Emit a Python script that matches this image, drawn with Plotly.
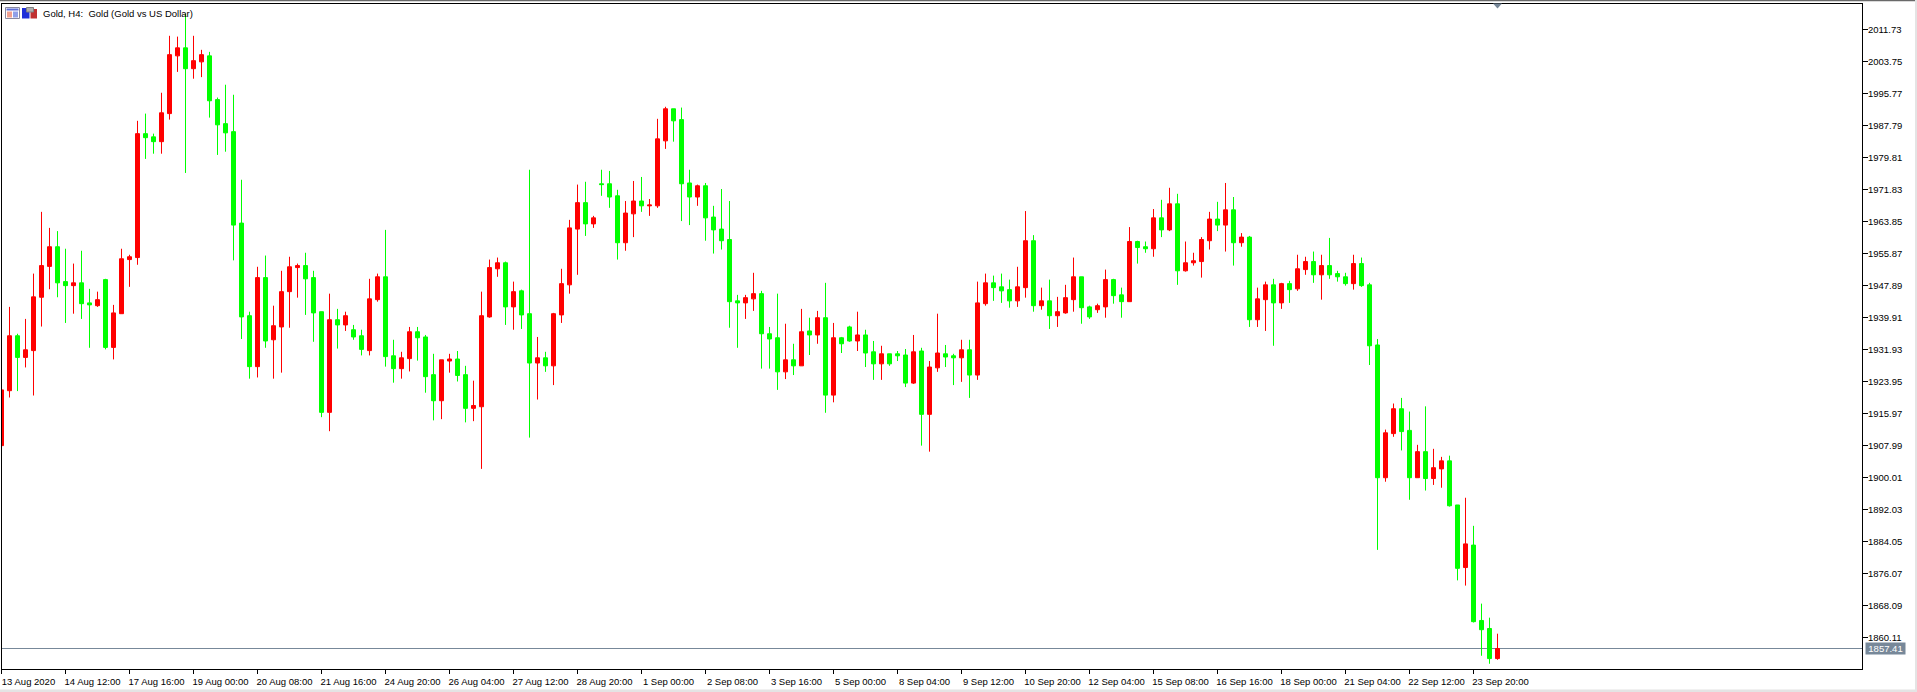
import plotly.graph_objects as go

# Gold H4 bars
opens = [
 1908.0,1921.7,1935.4,1930.0,1931.7,1945.0,1952.7,1957.6,1948.9,1947.9,
 1948.6,1943.6,1942.9,1949.4,1932.5,1940.9,1954.4,1954.9,1985.8,1985.0,
 1983.8,1990.8,2005.2,2007.2,2002.0,2003.7,2005.2,1994.3,1988.3,1986.3,
 1963.5,1940.4,1927.7,1949.9,1934.4,1937.6,1946.4,1952.4,1952.9,1949.9,
 1941.4,1916.3,1939.4,1938.1,1936.9,1935.4,1931.7,1944.4,1950.1,1930.4,
 1927.2,1929.7,1936.4,1935.1,1925.7,1919.2,1929.1,1929.6,1925.7,1917.3,
 1917.7,1940.1,1952.1,1953.6,1942.6,1946.6,1940.9,1928.6,1929.9,1927.9,
 1940.6,1948.1,1962.0,1968.6,1963.3,1973.3,1973.3,1970.3,1958.6,1965.8,
 1969.0,1967.8,1967.8,1984.0,1992.0,1989.3,1973.5,1970.0,1972.8,1965.0,
 1962.0,1959.4,1944.1,1943.6,1944.6,1945.9,1935.9,1934.9,1926.4,1929.4,
 1927.9,1936.6,1935.6,1939.9,1920.6,1934.9,1937.6,1934.1,1935.6,1931.4,
 1928.4,1930.9,1930.9,1930.6,1923.6,1931.6,1915.8,1927.4,1930.9,1930.4,
 1929.9,1931.9,1925.6,1943.4,1948.6,1947.6,1946.9,1944.1,1947.4,1959.1,
 1942.9,1944.1,1940.4,1941.1,1944.4,1950.1,1942.6,1941.9,1942.6,1949.4,
 1945.6,1943.9,1958.9,1957.6,1957.1,1964.8,1961.8,1968.3,1951.6,1953.6,
 1953.9,1959.1,1964.5,1963.0,1966.8,1958.6,1960.0,1939.4,1944.4,1948.1,
 1943.6,1948.4,1947.1,1951.9,1953.9,1950.6,1952.9,1950.9,1950.1,1948.4,
 1953.4,1948.1,1933.1,1900.0,1911.0,1917.2,1911.8,1900.0,1906.5,1899.8,
 1902.2,1904.2,1893.2,1877.6,1883.2,1864.4,1862.4,1854.9]
highs = [
 1922.4,1942.6,1935.9,1939.6,1950.9,1966.3,1962.3,1961.5,1957.1,1953.4,
 1956.6,1947.1,1946.4,1949.6,1943.1,1957.1,1955.6,1989.0,1990.8,1985.8,
 1996.0,2010.2,2010.0,2015.7,2010.2,2006.7,2006.2,1994.8,1998.0,1995.5,
 1974.3,1941.4,1952.6,1955.4,1942.9,1951.6,1955.1,1953.4,1956.1,1951.6,
 1941.4,1945.9,1942.1,1941.4,1938.1,1936.9,1949.6,1950.9,1961.8,1934.4,
 1931.4,1937.6,1937.6,1935.6,1930.9,1929.4,1930.9,1931.6,1927.9,1924.2,
 1946.4,1954.4,1954.9,1953.9,1948.9,1946.9,1976.8,1935.1,1931.4,1941.1,
 1952.1,1964.3,1973.1,1973.8,1965.3,1976.8,1976.5,1971.8,1969.0,1974.0,
 1975.0,1969.5,1989.5,1992.5,1992.0,1992.3,1976.8,1973.1,1973.5,1967.8,
 1972.0,1969.0,1945.6,1945.6,1951.1,1946.6,1937.6,1945.9,1938.4,1933.4,
 1942.1,1939.9,1941.6,1948.6,1938.6,1935.1,1937.9,1941.4,1936.9,1934.1,
 1932.9,1930.9,1931.6,1932.1,1935.6,1932.4,1929.1,1940.9,1933.1,1930.9,
 1934.4,1934.4,1948.9,1950.9,1950.4,1950.9,1949.4,1952.6,1966.5,1960.5,
 1947.4,1949.4,1945.1,1948.1,1954.9,1950.1,1942.9,1943.4,1951.9,1949.6,
 1947.4,1962.5,1959.1,1958.9,1967.0,1969.3,1972.3,1970.8,1958.9,1956.1,
 1960.0,1966.3,1968.8,1973.5,1970.0,1961.0,1960.3,1947.4,1948.9,1949.6,
 1948.6,1949.1,1955.6,1955.1,1956.4,1955.6,1959.8,1951.6,1951.1,1955.6,
 1954.9,1948.6,1934.6,1912.0,1918.5,1919.9,1916.5,1908.2,1917.8,1907.2,
 1905.2,1905.5,1893.2,1895.0,1888.0,1868.6,1865.1,1861.1]
lows = [
 1908.0,1920.0,1921.6,1927.5,1920.5,1937.7,1947.0,1945.0,1938.6,1940.9,
 1939.6,1932.4,1942.6,1932.0,1929.5,1940.9,1947.6,1953.1,1979.5,1980.8,
 1980.8,1989.3,2001.2,1976.0,1999.5,1999.9,1989.8,1980.5,1981.3,1954.2,
 1934.6,1924.7,1925.0,1932.4,1924.7,1926.2,1937.4,1944.9,1940.6,1933.9,
 1915.1,1911.6,1932.2,1936.6,1934.4,1930.5,1930.5,1943.9,1927.7,1923.7,
 1924.7,1926.5,1929.2,1921.2,1914.3,1914.6,1926.2,1924.0,1913.8,1914.1,
 1902.2,1939.9,1950.1,1938.1,1936.9,1937.1,1910.0,1919.5,1926.4,1923.1,
 1938.6,1945.9,1950.6,1960.3,1962.3,1970.3,1967.3,1954.4,1956.6,1960.0,
 1966.3,1965.3,1967.3,1982.0,1983.8,1964.0,1963.0,1967.8,1959.1,1955.9,
 1956.9,1937.4,1932.4,1939.6,1941.6,1927.2,1927.2,1921.9,1924.6,1925.6,
 1927.9,1930.6,1933.4,1916.2,1918.8,1931.1,1933.9,1931.6,1927.6,1924.4,
 1924.4,1927.9,1929.1,1922.6,1923.4,1908.0,1906.5,1926.4,1927.6,1923.1,
 1923.9,1919.9,1924.4,1942.9,1944.1,1943.6,1942.4,1942.6,1944.9,1941.4,
 1941.9,1937.1,1937.6,1940.9,1941.4,1938.4,1939.6,1941.1,1939.9,1943.4,
 1939.9,1943.9,1953.4,1956.1,1955.1,1960.0,1961.5,1948.1,1951.4,1952.9,
 1949.9,1956.9,1961.5,1956.4,1952.9,1957.6,1937.6,1937.6,1936.6,1932.9,
 1942.1,1943.6,1946.6,1950.6,1948.6,1944.4,1949.6,1948.9,1947.9,1946.9,
 1947.6,1928.1,1882.0,1899.0,1910.2,1906.8,1894.5,1900.0,1896.8,1898.2,
 1897.5,1892.8,1874.4,1873.1,1863.9,1855.6,1853.6,1854.6]
closes = [
 1921.9,1935.4,1930.0,1931.9,1945.1,1952.9,1957.6,1948.6,1947.9,1948.6,
 1943.4,1943.1,1944.4,1932.5,1941.1,1954.6,1955.1,1985.8,1984.8,1983.8,
 1991.0,2005.5,2007.2,2002.0,2004.0,2005.5,1994.0,1988.0,1986.0,1963.0,
 1940.1,1927.7,1949.9,1934.1,1937.9,1946.4,1952.6,1952.9,1949.6,1941.1,
 1916.3,1939.4,1938.1,1940.4,1935.1,1932.0,1944.6,1950.1,1930.2,1927.2,
 1929.9,1936.4,1934.9,1925.2,1919.2,1929.4,1929.6,1925.5,1917.3,1918.0,
 1940.4,1952.4,1953.6,1942.6,1946.4,1940.6,1928.6,1929.9,1927.9,1940.9,
 1948.4,1962.3,1968.6,1963.3,1964.8,1973.1,1970.0,1958.6,1966.0,1969.0,
 1967.8,1968.0,1984.5,1992.0,1989.0,1973.3,1970.0,1972.8,1964.8,1961.8,
 1959.1,1943.9,1943.6,1944.9,1945.9,1935.9,1934.6,1926.4,1929.4,1927.9,
 1936.4,1935.6,1939.9,1920.6,1934.9,1933.4,1934.1,1935.6,1931.1,1928.4,
 1930.9,1928.4,1930.4,1923.6,1931.4,1915.8,1927.6,1931.1,1930.1,1929.9,
 1931.9,1925.6,1943.6,1948.6,1947.4,1946.6,1944.1,1947.6,1959.1,1942.9,
 1944.1,1940.4,1941.4,1944.9,1950.1,1942.4,1940.1,1942.9,1949.4,1945.4,
 1943.9,1958.9,1957.4,1957.1,1964.8,1961.8,1968.3,1951.6,1953.6,1954.1,
 1959.4,1964.5,1963.0,1966.8,1958.6,1960.0,1939.4,1944.6,1948.1,1943.6,
 1948.4,1946.9,1952.1,1953.9,1950.6,1952.9,1950.6,1950.1,1948.4,1953.4,
 1947.9,1932.9,1900.0,1911.2,1917.2,1911.5,1900.0,1906.5,1899.8,1902.5,
 1904.2,1893.0,1877.4,1883.5,1864.1,1862.1,1854.9,1857.41]

price_ticks = [2011.73,2003.75,1995.77,1987.79,1979.81,1971.83,1963.85,1955.87,
               1947.89,1939.91,1931.93,1923.95,1915.97,1907.99,1900.01,1892.03,
               1884.05,1876.07,1868.09,1860.11]
time_labels = ["13 Aug 2020","14 Aug 12:00","17 Aug 16:00","19 Aug 00:00","20 Aug 08:00",
               "21 Aug 16:00","24 Aug 20:00","26 Aug 04:00","27 Aug 12:00","28 Aug 20:00",
               "1 Sep 00:00","2 Sep 08:00","3 Sep 16:00","5 Sep 00:00","8 Sep 04:00",
               "9 Sep 12:00","10 Sep 20:00","12 Sep 04:00","15 Sep 08:00","16 Sep 16:00",
               "18 Sep 00:00","21 Sep 04:00","22 Sep 12:00","23 Sep 20:00"]
bars_per_label = 8
last_price = 1857.41
title_text = "Gold, H4:  Gold (Gold vs US Dollar)"

W, H = 1917, 692
L, R, T, B = 1, 1862, 4, 669
FONT = "Liberation Sans"
GREY = "#778899"

def px(x):
    return (x - L) / (R - L)
def py(y):
    return 1 - (y - T) / (B - T)

def rect(x0, y0, x1, y1, fill, line=None):
    return dict(type="rect", xref="paper", yref="paper", x0=px(x0), x1=px(x1),
                y0=py(y0), y1=py(y1), fillcolor=fill, layer="above",
                line=dict(width=1 if line else 0, color=line or fill))

bars = list(range(len(opens)))
fig = go.Figure(go.Candlestick(
    x=bars, open=opens, high=highs, low=lows, close=closes,
    increasing=dict(line=dict(color="#FF0000", width=1), fillcolor="#FF0000"),
    decreasing=dict(line=dict(color="#00FF00", width=1), fillcolor="#00FF00"),
    whiskerwidth=0, showlegend=False, hoverinfo="skip",
))

tri = f"M {px(1493)} {py(3.5)} L {px(1502)} {py(3.5)} L {px(1497.5)} {py(8.5)} Z"
shapes = [
    dict(type="line", xref="paper", yref="y", x0=0, x1=1, y0=last_price, y1=last_price,
         line=dict(color=GREY, width=1), layer="below"),
    rect(0, 0, W, 1.2, "#696969"),
    rect(0, 689.5, W, H, "#e4e4e4"),
    rect(1915, 0, W, H, "#e4e4e4"),
    rect(1, 3, 2, 670, "#000000"),   # left frame edge
    dict(type="path", xref="paper", yref="paper", path=tri, fillcolor=GREY,
         line=dict(width=0), layer="above"),
    # toolbar glyphs in the chart corner
    rect(5.5, 7.5, 19.5, 18.5, "#ffffff", "#8a8aa0"),
    rect(6.5, 8.5, 18.5, 10.5, "#6070d8"),
    rect(7, 11.5, 12, 17.5, "#f0a090"),
    rect(13, 11.5, 18, 17.5, "#90a0e8"),
    rect(22, 8, 29.5, 18.5, "#2030d8"),
    rect(30.5, 9, 37, 18.5, "#c03030"),
    rect(26.5, 7.5, 33.5, 12, "#b0b0b0", "#808080"),
]

fig.update_layout(
    width=W, height=H, autosize=False,
    margin=dict(l=L, r=W - R, t=T, b=H - B, pad=0),
    paper_bgcolor="white", plot_bgcolor="white",
    font=dict(family=FONT, size=9, color="black"),
    boxmode="group", boxgap=0.5, boxgroupgap=0, dragmode=False,
    shapes=shapes,
    annotations=[
        dict(text=title_text, xref="paper", yref="paper", x=px(41), y=py(13.5),
             xanchor="left", yanchor="middle", showarrow=False,
             font=dict(family=FONT, size=9.5, color="black")),
        dict(text=f"{last_price:.2f}", xref="paper", yref="y", x=px(1865), y=last_price,
             xanchor="left", yanchor="middle", showarrow=False, width=39, height=11,
             bgcolor=GREY, borderpad=0, align="center",
             font=dict(family=FONT, size=9.5, color="white")),
    ],
    xaxis=dict(
        range=[-0.0625, -0.0625 + (R - L) / 8], rangeslider=dict(visible=False), showgrid=False, zeroline=False,
        tickmode="array", tickvals=bars[::bars_per_label][:len(time_labels)], ticktext=time_labels,
        ticks="outside", ticklen=4, tickwidth=1, tickcolor="black",
        showline=True, linecolor="black", linewidth=1, mirror=True,
        ticklabelshift=27, ticklabelstandoff=0, tickfont=dict(family=FONT, size=9.5),
    ),
    yaxis=dict(
        side="right", range=[1852.298, 2018.132], showgrid=False, zeroline=False,
        tickmode="array", tickvals=price_ticks, ticktext=[f"{v:.2f}" for v in price_ticks],
        ticks="outside", ticklen=5, tickwidth=1, tickcolor="black",
        showline=True, linecolor="black", linewidth=1, mirror=False,
        ticklabelstandoff=-2, tickfont=dict(family=FONT, size=9.5),
    ),
)

fig.write_html("out.html", config=dict(displayModeBar=False, responsive=False),
               post_script="document.body.style.margin='0';document.body.style.overflow='hidden';")
